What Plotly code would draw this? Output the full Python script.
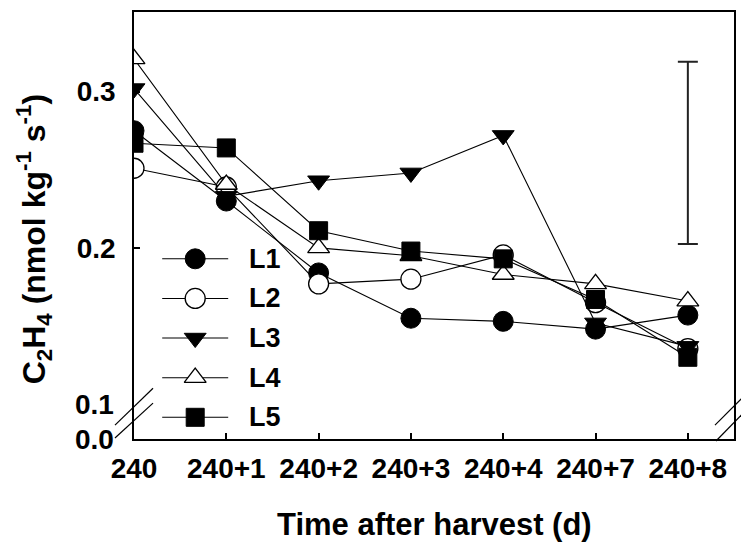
import plotly.graph_objects as go

# ---------------- data ----------------
categories = ["240", "240+1", "240+2", "240+3", "240+4", "240+7", "240+8"]
series_names = ["L1", "L2", "L3", "L4", "L5"]
L1 = [0.275, 0.230, 0.184, 0.155, 0.153, 0.148, 0.157]
L2 = [0.251, 0.239, 0.177, 0.180, 0.1955, 0.165, 0.1355]
L3 = [0.302, 0.233, 0.243, 0.248, 0.272, 0.152, 0.137]
L4 = [0.321, 0.2406, 0.200, 0.195, 0.183, 0.177, 0.166]
L5 = [0.267, 0.264, 0.211, 0.198, 0.193, 0.167, 0.130]
err_category = "240+8"
err_center = 0.2608
err_half = 0.0583
ytick_vals = [0.2, 0.3]
ytick_text = ["0.2", "0.3"]
break_labels = ["0.1", "0.0"]

# ---------------- styles ----------------
FONT = "Arial, 'Liberation Sans', sans-serif"
TICK_SIZE = 28
TITLE_SIZE = 31
YTITLE_SIZE = 32
LEG_SIZE = 27
styles = [
    dict(symbol="circle", size=20, color="black", line=dict(color="black", width=1)),
    dict(symbol="circle", size=20, color="white", line=dict(color="black", width=1.3)),
    dict(symbol="triangle-down", size=19, color="black", line=dict(color="black", width=1)),
    dict(symbol="triangle-up", size=19, color="white", line=dict(color="black", width=1.3)),
    dict(symbol="square", size=18, color="black", line=dict(color="black", width=1)),
]
all_series = [L1, L2, L3, L4, L5]

fig = go.Figure()

for name, vals, st in zip(series_names, all_series, styles):
    fig.add_trace(go.Scatter(
        x=categories, y=vals, mode="lines+markers", name=name,
        line=dict(color="black", width=1.1),
        marker=st, showlegend=False,
    ))

# error bar
fig.add_trace(go.Scatter(
    x=[err_category], y=[err_center], mode="markers",
    marker=dict(size=1, color="rgba(0,0,0,0)"),
    error_y=dict(type="data", array=[err_half], visible=True,
                 color="#222", thickness=2, width=10),
    showlegend=False, hoverinfo="skip",
))

# manual legend on overlay axes (0..1 in plot area)
leg_x0, leg_xm, leg_x1, leg_tx = 0.047, 0.102, 0.157, 0.188
leg_y0, leg_dy = 0.422, 0.0928
annotations = []
for i, (name, st) in enumerate(zip(series_names, styles)):
    yy = leg_y0 - i * leg_dy
    fig.add_trace(go.Scatter(
        x=[leg_x0, leg_x1], y=[yy, yy], mode="lines",
        line=dict(color="black", width=1.1), xaxis="x2", yaxis="y2",
        showlegend=False, hoverinfo="skip"))
    fig.add_trace(go.Scatter(
        x=[leg_xm], y=[yy], mode="markers", marker=st,
        xaxis="x2", yaxis="y2", showlegend=False, hoverinfo="skip"))
    annotations.append(dict(
        x=leg_tx, y=yy, xref="paper", yref="paper", text=name,
        showarrow=False, xanchor="left", yanchor="middle",
        font=dict(family=FONT, size=LEG_SIZE, color="black", weight="bold")))

# break labels on y axis
annotations.append(dict(x=-0.03, y=0.1, xref="paper", yref="y", text=break_labels[0],
                        showarrow=False, xanchor="right", yanchor="middle",
                        font=dict(family=FONT, size=TICK_SIZE, color="black", weight="bold")))
annotations.append(dict(x=-0.03, y=0.0, xref="paper", yref="paper", text=break_labels[1],
                        showarrow=False, xanchor="right", yanchor="middle",
                        font=dict(family=FONT, size=TICK_SIZE, color="black", weight="bold")))

# axis titles
annotations.append(dict(x=0.5, y=-0.20, xref="paper", yref="paper",
                        text="Time after harvest (d)", showarrow=False,
                        xanchor="center", yanchor="middle",
                        font=dict(family=FONT, size=TITLE_SIZE, color="black", weight="bold")))
annotations.append(dict(x=-0.166, y=0.4685, xref="paper", yref="paper",
                        text="C<sub>2</sub>H<sub>4</sub> (nmol kg<sup>-1</sup> s<sup>-1</sup>)",
                        showarrow=False, textangle=-90,
                        xanchor="center", yanchor="middle",
                        font=dict(family=FONT, size=YTITLE_SIZE, color="black", weight="bold")))

# axis break marks
shapes = []
for (x0, y0, x1, y1) in [(-0.0317, 0.0326, 0.0317, 0.1189),
                         (-0.0317, 0.0023, 0.0317, 0.0839),
                         (0.9683, 0.0326, 1.025, 0.1119),
                         (0.970, -0.0047, 1.025, 0.0746)]:
    shapes.append(dict(type="line", xref="paper", yref="paper",
                       x0=x0, y0=y0, x1=x1, y1=y1,
                       line=dict(color="black", width=1.2)))

fig.update_layout(
    width=741, height=543,
    margin=dict(l=126, r=15, t=2, b=112),
    paper_bgcolor="white", plot_bgcolor="white",
    font=dict(family=FONT, color="black"),
    xaxis=dict(type="category", range=[0, 6.5], showgrid=False, zeroline=False,
               showline=True, linecolor="black", linewidth=1.5, mirror=True,
               ticks="inside", ticklen=6, tickwidth=1.5, tickcolor="black",
               tickfont=dict(family=FONT, size=TICK_SIZE, color="black", weight="bold"),
               ticklabelstandoff=4),
    yaxis=dict(range=[0.0777, 0.351], showgrid=False, zeroline=False,
               showline=True, linecolor="black", linewidth=1.5, mirror=True,
               ticks="inside", ticklen=6, tickwidth=1.5, tickcolor="black",
               tickvals=ytick_vals, ticktext=ytick_text,
               tickfont=dict(family=FONT, size=TICK_SIZE, color="black", weight="bold"),
               ticklabelstandoff=11),
    xaxis2=dict(overlaying="x", range=[0, 1], visible=False),
    yaxis2=dict(overlaying="y", range=[0, 1], visible=False),
    annotations=annotations,
    shapes=shapes,
    showlegend=False,
)

fig.write_html("out.html")
